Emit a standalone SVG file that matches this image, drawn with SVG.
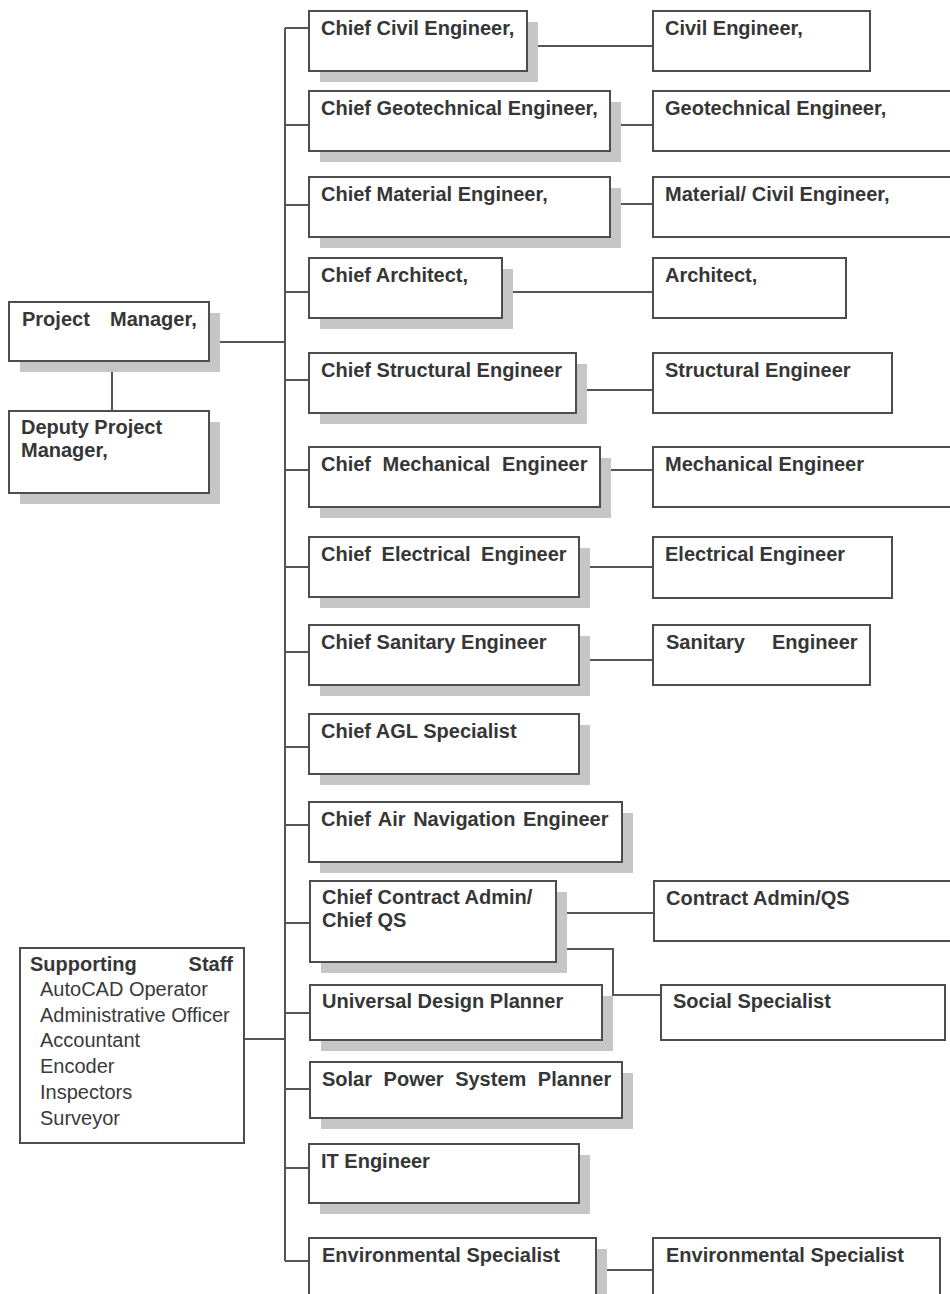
<svg xmlns="http://www.w3.org/2000/svg" width="950" height="1294" viewBox="0 0 950 1294">
  <style>
    .bg { fill: #ffffff; }
    .shadow { fill: #c6c6c6; }
    .box { fill: #ffffff; stroke: #4d4d4d; stroke-width: 2; }
    .wire { fill: none; stroke: #555555; stroke-width: 2; }
    .t { font-family: "Liberation Sans", Arial, sans-serif; font-size: 20px; font-weight: bold; fill: #363636; }
    .r { font-family: "Liberation Sans", Arial, sans-serif; font-size: 20px; fill: #3a3a3a; }
  </style>
  <rect class="bg" x="0" y="0" width="950" height="1294"/>

  <!-- connectors -->
  <g id="connectors">
    <path class="wire" d="M285,28 V1261"/>
    <path class="wire" d="M285,28 H309 M285,125 H309 M285,205 H309 M285,292 H309 M285,380 H309 M285,470 H309 M285,567 H309 M285,652 H309 M285,747 H309 M285,825 H309 M285,923 H310 M285,1013 H310 M285,1089 H310 M285,1168 H309 M285,1261 H309"/>
    <path class="wire" d="M209,342 H285"/>
    <path class="wire" d="M112,361 V411"/>
    <path class="wire" d="M244,1039 H285"/>
    <path class="wire" d="M527,46 H653 M610,125 H653 M610,204 H653 M502,292 H653 M576,390 H653 M600,470 H653 M579,567 H653 M579,660 H653 M556,913 H654 M596,1270 H653"/>
    <path class="wire" d="M556,949 H613 V995 H661"/>
  </g>

  <!-- management -->
  <g id="project-manager">
    <rect class="shadow" x="20" y="313" width="200" height="59"/>
    <rect class="box" x="9" y="302" width="200" height="59"/>
    <text class="t" y="326"><tspan x="22">Project</tspan><tspan x="110">Manager,</tspan></text>
  </g>
  <g id="deputy-project-manager">
    <rect class="shadow" x="20" y="422" width="200" height="82"/>
    <rect class="box" x="9" y="411" width="200" height="82"/>
    <text class="t" x="21" y="434">Deputy Project</text>
    <text class="t" x="21" y="457">Manager,</text>
  </g>
  <g id="supporting-staff">
    <rect class="box" x="20" y="948" width="224" height="195"/>
    <text class="t" x="30" y="971">Supporting</text>
    <text class="t" x="233" y="971" text-anchor="end">Staff</text>
    <text class="r" x="40" y="996">AutoCAD Operator</text>
    <text class="r" x="40" y="1022">Administrative Officer</text>
    <text class="r" x="40" y="1047">Accountant</text>
    <text class="r" x="40" y="1073">Encoder</text>
    <text class="r" x="40" y="1099">Inspectors</text>
    <text class="r" x="40" y="1125">Surveyor</text>
  </g>

  <!-- chiefs -->
  <g id="chief-civil">
    <rect class="shadow" x="320" y="22" width="218" height="60"/>
    <rect class="box" x="309" y="11" width="218" height="60"/>
    <text class="t" x="321" y="35">Chief Civil Engineer,</text>
  </g>
  <g id="chief-geotechnical">
    <rect class="shadow" x="320" y="102" width="301" height="60"/>
    <rect class="box" x="309" y="91" width="301" height="60"/>
    <text class="t" x="321" y="115">Chief Geotechnical Engineer,</text>
  </g>
  <g id="chief-material">
    <rect class="shadow" x="320" y="188" width="301" height="60"/>
    <rect class="box" x="309" y="177" width="301" height="60"/>
    <text class="t" x="321" y="201">Chief Material Engineer,</text>
  </g>
  <g id="chief-architect">
    <rect class="shadow" x="320" y="269" width="193" height="60"/>
    <rect class="box" x="309" y="258" width="193" height="60"/>
    <text class="t" x="321" y="282">Chief Architect,</text>
  </g>
  <g id="chief-structural">
    <rect class="shadow" x="320" y="364" width="267" height="60"/>
    <rect class="box" x="309" y="353" width="267" height="60"/>
    <text class="t" x="321" y="377">Chief Structural Engineer</text>
  </g>
  <g id="chief-mechanical">
    <rect class="shadow" x="320" y="458" width="291" height="60"/>
    <rect class="box" x="309" y="447" width="291" height="60"/>
    <text class="t" x="321" y="471" word-spacing="6">Chief Mechanical Engineer</text>
  </g>
  <g id="chief-electrical">
    <rect class="shadow" x="320" y="548" width="270" height="60"/>
    <rect class="box" x="309" y="537" width="270" height="60"/>
    <text class="t" x="321" y="561" word-spacing="5">Chief Electrical Engineer</text>
  </g>
  <g id="chief-sanitary">
    <rect class="shadow" x="320" y="636" width="270" height="60"/>
    <rect class="box" x="309" y="625" width="270" height="60"/>
    <text class="t" x="321" y="649">Chief Sanitary Engineer</text>
  </g>
  <g id="chief-agl">
    <rect class="shadow" x="320" y="725" width="270" height="60"/>
    <rect class="box" x="309" y="714" width="270" height="60"/>
    <text class="t" x="321" y="738">Chief AGL Specialist</text>
  </g>
  <g id="chief-air-navigation">
    <rect class="shadow" x="320" y="813" width="313" height="60"/>
    <rect class="box" x="309" y="802" width="313" height="60"/>
    <text class="t" x="321" y="826" word-spacing="2">Chief Air Navigation Engineer</text>
  </g>
  <g id="chief-contract-admin">
    <rect class="shadow" x="321" y="892" width="246" height="81"/>
    <rect class="box" x="310" y="881" width="246" height="81"/>
    <text class="t" x="322" y="904">Chief Contract Admin/</text>
    <text class="t" x="322" y="927">Chief QS</text>
  </g>
  <g id="universal-design-planner">
    <rect class="shadow" x="321" y="996" width="292" height="55"/>
    <rect class="box" x="310" y="985" width="292" height="55"/>
    <text class="t" x="322" y="1008">Universal Design Planner</text>
  </g>
  <g id="solar-power-planner">
    <rect class="shadow" x="321" y="1073" width="312" height="56"/>
    <rect class="box" x="310" y="1062" width="312" height="56"/>
    <text class="t" x="322" y="1086" word-spacing="6">Solar Power System Planner</text>
  </g>
  <g id="it-engineer">
    <rect class="shadow" x="320" y="1155" width="270" height="59"/>
    <rect class="box" x="309" y="1144" width="270" height="59"/>
    <text class="t" x="321" y="1168">IT Engineer</text>
  </g>
  <g id="chief-environmental">
    <rect class="shadow" x="320" y="1249" width="287" height="62"/>
    <rect class="box" x="309" y="1238" width="287" height="62"/>
    <text class="t" x="322" y="1262">Environmental Specialist</text>
  </g>

  <!-- staff level -->
  <g id="civil-engineer">
    <rect class="box" x="653" y="11" width="217" height="60"/>
    <text class="t" x="665" y="35">Civil Engineer,</text>
  </g>
  <g id="geotechnical-engineer">
    <rect class="box" x="653" y="91" width="310" height="60"/>
    <text class="t" x="665" y="115">Geotechnical Engineer,</text>
  </g>
  <g id="material-civil-engineer">
    <rect class="box" x="653" y="177" width="310" height="60"/>
    <text class="t" x="665" y="201">Material/ Civil Engineer,</text>
  </g>
  <g id="architect">
    <rect class="box" x="653" y="258" width="193" height="60"/>
    <text class="t" x="665" y="282">Architect,</text>
  </g>
  <g id="structural-engineer">
    <rect class="box" x="653" y="353" width="239" height="60"/>
    <text class="t" x="665" y="377">Structural Engineer</text>
  </g>
  <g id="mechanical-engineer">
    <rect class="box" x="653" y="447" width="310" height="60"/>
    <text class="t" x="665" y="471">Mechanical Engineer</text>
  </g>
  <g id="electrical-engineer">
    <rect class="box" x="653" y="537" width="239" height="61"/>
    <text class="t" x="665" y="561">Electrical Engineer</text>
  </g>
  <g id="sanitary-engineer">
    <rect class="box" x="653" y="625" width="217" height="60"/>
    <text class="t" y="649"><tspan x="666">Sanitary</tspan><tspan x="772">Engineer</tspan></text>
  </g>
  <g id="contract-admin-qs">
    <rect class="box" x="654" y="881" width="310" height="60"/>
    <text class="t" x="666" y="905">Contract Admin/QS</text>
  </g>
  <g id="social-specialist">
    <rect class="box" x="661" y="985" width="284" height="55"/>
    <text class="t" x="673" y="1008">Social Specialist</text>
  </g>
  <g id="environmental-specialist">
    <rect class="box" x="653" y="1238" width="287" height="62"/>
    <text class="t" x="666" y="1262">Environmental Specialist</text>
  </g>
</svg>
